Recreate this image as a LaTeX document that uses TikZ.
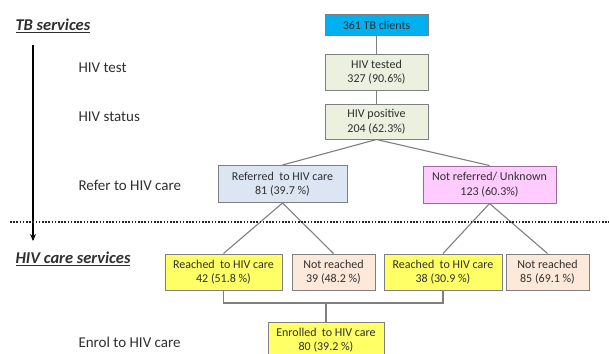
\documentclass[tikz,border=0pt]{standalone}
\usepackage{fontspec}
\setmainfont{Carlito}
\usetikzlibrary{arrows.meta}
\definecolor{tbcyan}{HTML}{00B0F0}
\definecolor{paleolive}{HTML}{EBF1DE}
\definecolor{paleblue}{HTML}{DCE6F2}
\definecolor{palepink}{HTML}{FFCCFF}
\definecolor{pinkedge}{HTML}{9E6A9E}
\definecolor{yel}{HTML}{FFFF66}
\definecolor{peach}{HTML}{FDE9D9}
\definecolor{edge}{HTML}{7F7F7F}
\definecolor{txt}{HTML}{2F2F2F}
\begin{document}
\begin{tikzpicture}[x=1pt,y=-1pt,
  box/.style={draw=edge, line width=1pt, align=center, inner sep=1pt,
    font=\fontsize{12}{14.5}\selectfont, text=txt},
  conn/.style={draw=edge, line width=1.1pt},
  lab/.style={anchor=west, font=\fontsize{15}{17}\selectfont, text=txt},
  head/.style={anchor=west, font=\fontsize{16.5}{18}\selectfont\bfseries\itshape, text=txt}]
\useasboundingbox (0,0) rectangle (609,353);
% boxes
\node[box, fill=tbcyan, minimum width=103pt, minimum height=21pt] (tb) at (376.5,25.5) {361 TB clients};
\node[box, fill=paleolive, minimum width=103pt, minimum height=36pt] (tested) at (376.5,72) {HIV tested\\327 (90.6\%)};
\node[box, fill=paleolive, minimum width=103pt, minimum height=35pt] (pos) at (376.5,121.5) {HIV positive\\204 (62.3\%)};
\node[box, fill=paleblue, minimum width=129pt, minimum height=37pt] (ref) at (282.5,184) {Referred\ \ to HIV care\\81 (39.7 \%)};
\node[box, fill=palepink, draw=pinkedge, minimum width=133pt, minimum height=37pt] (nref) at (489.5,184.5) {Not referred/ Unknown\\123 (60.3\%)};
\node[box, fill=yel, minimum width=117pt, minimum height=36pt] (r42) at (223.5,272) {Reached\ \ to HIV care\\42 (51.8 \%)};
\node[box, fill=peach, minimum width=83pt, minimum height=36pt] (n39) at (333.5,272) {Not reached\\39 (48.2 \%)};
\node[box, fill=yel, minimum width=118pt, minimum height=36pt] (r38) at (443,272) {Reached\ \ to HIV care\\38 (30.9 \%)};
\node[box, fill=peach, minimum width=83pt, minimum height=36pt] (n85) at (547.5,272) {Not reached\\85 (69.1 \%)};
\node[box, fill=yel, minimum width=116pt, minimum height=36pt] (enr) at (326,340) {Enrolled\ \ to HIV care\\80 (39.2 \%)};
% connectors
\draw[conn] (tb.south) -- (tested.north);
\draw[conn] (tested.south) -- (pos.north);
\draw[conn] (pos.south) -- (ref.north);
\draw[conn] (pos.south) -- (nref.north);
\draw[conn] (ref.south) -- (r42.north);
\draw[conn] (ref.south) -- (n39.north);
\draw[conn] (nref.south) -- (r38.north);
\draw[conn] (nref.south) -- (n85.north);
\coordinate (join) at (326,303);
\draw[conn] (r42.south) |- (join) -| (r38.south);
\draw[conn] (join) -- (enr.north);
% left labels
\node[head] (tbs) at (12,26) {\underline{TB services}};
\node[head] (hcs) at (12,259) {\underline{HIV care services}};
\node[lab] (l1) at (75,68) {HIV test};
\node[lab] (l2) at (75,117) {HIV status};
\node[lab] (l3) at (75,185) {Refer to HIV care};
\node[lab] (l4) at (75,342) {Enrol to HIV care};
% arrow
\coordinate (atop) at (33,45);
\coordinate (abot) at (33,241);
\draw[line width=1.4pt, -{Stealth[length=7pt,width=6pt]}] (atop) -- (abot);
% dotted separator
\coordinate (d1) at (10,222);
\coordinate (d2) at (609,222);
\draw[line width=2pt, dash pattern=on 1.6pt off 1.6pt, color=black!85] (d1) -- (d2);
\end{tikzpicture}
\end{document}
